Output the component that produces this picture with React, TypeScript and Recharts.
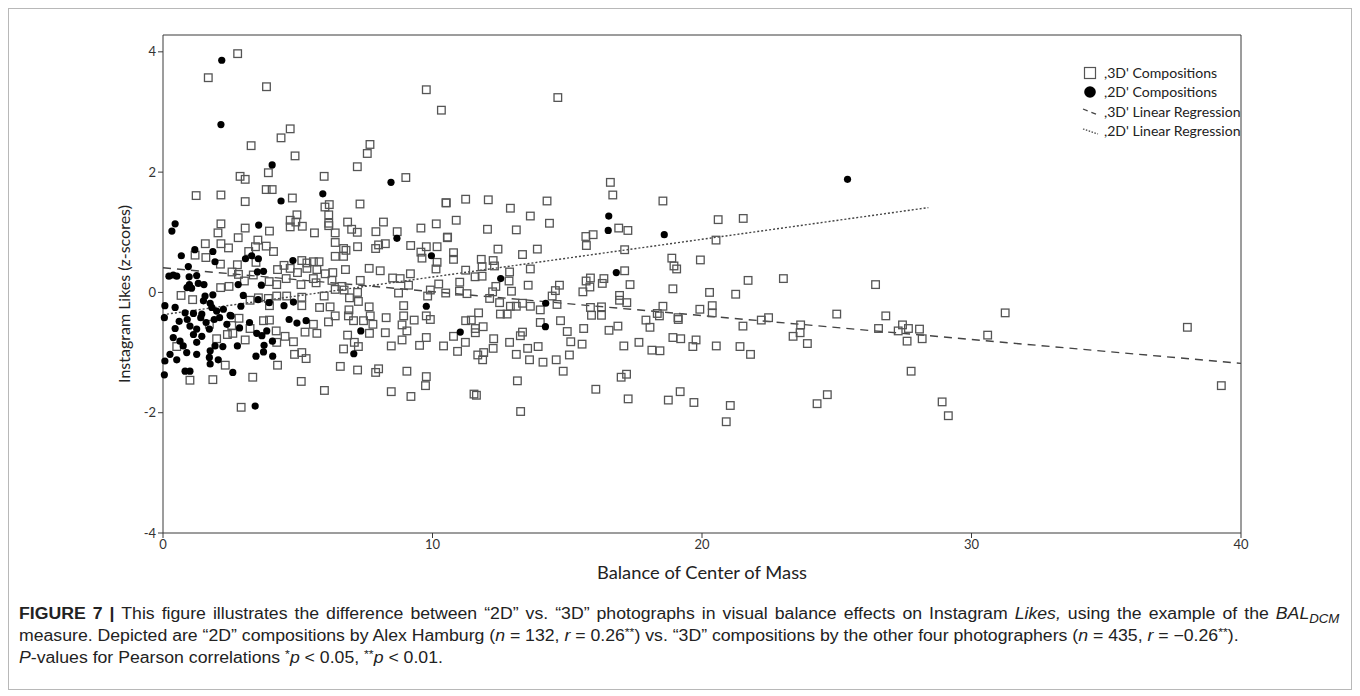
import { ScatterChart, Scatter, XAxis, YAxis, ReferenceLine, Label } from "recharts";

// "3D" compositions (x = BAL_DCM, y = likes z-score)
const squares3D: [number, number][] = [
  [1.68, 3.57], [2.77, 3.97], [3.84, 3.42], [3.27, 2.44], [4.38, 2.57], [4.72, 2.72], [4.9, 2.27],
  [3.91, 1.99], [2.86, 1.93], [3.05, 1.88], [5.98, 1.93], [7.21, 2.09], [7.58, 2.31], [7.68, 2.46],
  [9.77, 3.37], [10.33, 3.03], [9.01, 1.91], [14.65, 3.24], [16.6, 1.83], [16.69, 1.62],
  [1.23, 1.61], [2.15, 1.62], [3.05, 1.51], [3.83, 1.71], [4.05, 1.71], [4.8, 1.57], [6.17, 1.46],
  [6.01, 1.42], [6.15, 1.29], [6.15, 1.15], [6.15, 1.11], [7.31, 1.47], [10.5, 1.49], [2.15, 1.14],
  [2.04, 0.99], [3.05, 1.07], [3.95, 1.02], [4.72, 1.2], [4.72, 1.09], [4.97, 1.29], [4.93, 1.17],
  [5.17, 1.1], [5.62, 0.99], [6.39, 0.99], [6.85, 1.17], [7.0, 1.05], [7.21, 1.0], [8.18, 1.17],
  [7.9, 1.01], [8.69, 1.01], [9.57, 1.07], [10.14, 1.14], [10.55, 0.91], [2.79, 0.91], [1.57, 0.81],
  [2.15, 0.81], [2.43, 0.74], [1.19, 0.62], [1.59, 0.58], [2.13, 0.47], [3.18, 0.68], [3.43, 0.76],
  [3.52, 0.87], [3.83, 0.77], [4.1, 0.68], [3.45, 0.5], [2.76, 0.46], [2.56, 0.34], [2.8, 0.3],
  [3.35, 0.29], [0.67, -0.05], [1.1, -0.12], [2.14, 0.08], [2.45, 0.1], [3.02, 0.19], [3.23, -0.13],
  [3.94, 0.18], [4.22, 0.13], [3.54, -0.09], [3.91, -0.1], [3.95, -0.22], [4.25, 0.38], [4.49, 0.45],
  [4.72, 0.4], [4.99, 0.33], [5.15, 0.53], [5.34, 0.49], [5.58, 0.51], [5.79, 0.51], [5.34, 0.4],
  [5.71, 0.38], [6.02, 0.31], [6.3, 0.33], [6.77, 0.38], [6.27, 0.2], [5.58, 0.23], [5.68, 0.16],
  [5.12, 0.13], [4.57, 0.23], [4.22, -0.06], [4.59, -0.06], [5.15, -0.08], [5.15, -0.22], [5.81, -0.25],
  [5.98, -0.06], [6.2, -0.24], [6.39, 0.05], [6.64, 0.1], [6.72, 0.04], [6.92, -0.09], [7.25, -0.15],
  [7.22, 0.0], [7.32, 0.2], [6.9, -0.29], [7.65, 0.4], [8.06, 0.36], [7.65, -0.24], [8.52, 0.24],
  [8.8, 0.23], [9.18, 0.31], [9.11, 0.12], [8.74, -0.01], [8.93, -0.22], [9.57, 0.67], [9.77, 0.76],
  [10.17, 0.76], [9.61, 0.57], [10.17, 0.5], [10.13, 0.39], [10.23, 0.14], [9.92, 0.04], [9.82, -0.06],
  [10.49, -0.01], [8.25, 0.81], [8.0, 0.79], [7.89, 0.73], [9.19, 0.78], [7.22, 0.76], [6.7, 0.73],
  [6.79, 0.7], [6.39, 0.83], [6.39, 0.6], [6.7, 0.6],
  [1.0, -1.46], [1.85, -1.45], [3.33, -1.41], [2.9, -1.91], [5.13, -1.48], [5.99, -1.63], [6.58, -1.23],
  [7.22, -1.29], [7.89, -1.33], [8.0, -1.27], [8.47, -1.65], [9.05, -1.31], [9.2, -1.73], [9.77, -1.4],
  [9.74, -1.55], [10.41, -0.89], [9.52, -0.88], [9.77, -0.75], [8.87, -0.79], [8.47, -0.89], [8.25, -0.67],
  [9.05, -0.64], [8.87, -0.54], [9.32, -0.46], [9.92, -0.45], [9.77, -0.39], [8.93, -0.39], [8.28, -0.42],
  [7.79, -0.53], [7.69, -0.39], [7.44, -0.47], [7.07, -0.47], [6.88, -0.39], [6.39, -0.39], [6.14, -0.49],
  [6.85, -0.71], [7.1, -0.83], [7.25, -0.9], [6.7, -0.94], [7.66, -0.68], [5.71, -0.68], [5.27, -0.66],
  [5.58, -0.53], [4.84, -0.82], [4.53, -0.73], [4.22, -0.83], [4.2, -0.64], [5.15, -1.0], [5.31, -1.1],
  [4.88, -1.03], [4.25, -1.21], [3.05, -0.79], [2.31, -1.21], [1.99, -0.77], [2.39, -0.7], [2.59, -0.68],
  [2.55, -0.55], [3.73, -0.47], [3.95, -0.46], [3.23, -0.6], [2.82, -0.43], [0.51, -0.9], [1.72, -0.53],
  [15.69, 0.93], [15.96, 0.96], [15.71, 0.78], [16.91, 1.07], [17.25, 1.03], [18.55, 1.52], [20.6, 1.21],
  [21.53, 1.23], [20.52, 0.87], [17.13, 0.71], [18.88, 0.57], [19.94, 0.54], [18.96, 0.44], [19.06, 0.39],
  [17.13, 0.36], [17.33, 0.13], [18.92, 0.06], [20.28, 0.0], [21.25, -0.03], [21.71, 0.2], [15.7, 0.19],
  [15.86, 0.24], [15.84, 0.09], [15.58, 0.01], [16.3, 0.15], [16.36, 0.23], [16.94, -0.05], [16.94, -0.13],
  [17.21, -0.17], [15.86, -0.25], [16.27, -0.24], [15.9, -0.38], [16.27, -0.38], [18.55, -0.23],
  [18.34, -0.35], [18.42, -0.39], [19.92, -0.28], [20.38, -0.22], [20.38, -0.34], [19.11, -0.42],
  [10.51, 1.49], [11.23, 1.55], [12.07, 1.54], [12.89, 1.4], [14.25, 1.52], [13.63, 1.27], [14.34, 1.15],
  [10.88, 1.2], [12.04, 1.05], [13.11, 1.04], [10.56, 0.92], [12.43, 0.72], [10.78, 0.66], [10.78, 0.55],
  [11.81, 0.55], [12.25, 0.53], [11.84, 0.43], [12.3, 0.44], [13.34, 0.63], [13.89, 0.72], [13.63, 0.39],
  [12.86, 0.34], [11.23, 0.37], [11.58, 0.26], [11.84, 0.27], [12.84, 0.19], [11.01, 0.17], [13.55, 0.12],
  [14.71, 0.12], [12.93, 0.02], [12.35, 0.1], [12.23, 0.01], [11.0, 0.02], [11.28, -0.02], [12.12, -0.1],
  [12.49, -0.17], [12.89, -0.23], [13.11, -0.23], [13.34, -0.18], [13.63, -0.23], [14.0, -0.29],
  [14.44, -0.06], [14.56, 0.03], [14.62, -0.2], [11.71, -0.34], [12.52, -0.36], [12.77, -0.36],
  [11.23, -0.47], [11.44, -0.46], [10.78, -0.73], [10.93, -0.98], [11.22, -0.83], [11.59, -0.6],
  [11.59, -0.67], [11.88, -0.57], [11.68, -1.04], [11.9, -1.0], [11.86, -1.12], [12.27, -0.77],
  [12.25, -0.93], [12.86, -0.83], [13.26, -0.72], [13.34, -0.66], [13.11, -1.03], [13.53, -0.93],
  [13.6, -1.12], [13.92, -0.9], [14.1, -1.16], [14.0, -0.5], [14.75, -0.47], [15.0, -0.65], [15.13, -0.82],
  [15.08, -1.04], [14.59, -1.12], [14.85, -1.31], [15.55, -0.86], [15.61, -0.6], [16.55, -0.63],
  [16.88, -0.56], [17.1, -0.89], [17.66, -0.83], [17.92, -0.46], [18.07, -0.58], [18.14, -0.96],
  [18.44, -0.97], [18.92, -0.75], [19.21, -0.77], [19.12, -0.45], [19.78, -0.79], [19.66, -0.9],
  [20.53, -0.89], [21.41, -0.9], [21.52, -0.56], [13.15, -1.47], [11.54, -1.69], [11.63, -1.71],
  [13.27, -1.98], [16.06, -1.61], [17.0, -1.41], [17.2, -1.36], [17.26, -1.77], [18.75, -1.79],
  [19.19, -1.65], [19.7, -1.83], [21.05, -1.88], [20.9, -2.15], [21.8, -1.03],
  [23.02, 0.23], [26.44, 0.13], [25.0, -0.36], [26.82, -0.39], [31.25, -0.34], [38.01, -0.58],
  [22.2, -0.46], [22.47, -0.42], [23.66, -0.54], [23.64, -0.67], [23.38, -0.73], [23.91, -0.85],
  [26.55, -0.6], [27.44, -0.54], [27.28, -0.64], [27.66, -0.6], [28.07, -0.61], [27.61, -0.81],
  [28.17, -0.77], [30.6, -0.71], [27.76, -1.31], [24.27, -1.85], [24.65, -1.7], [28.91, -1.82],
  [29.14, -2.05], [39.27, -1.55],
];

// "2D" compositions (Alex Hamburg)
const dots2D: [number, number][] = [
  [2.18, 3.86], [2.15, 2.79], [4.05, 2.12], [8.46, 1.83], [4.38, 1.52], [5.93, 1.64], [0.45, 1.14],
  [0.33, 1.02], [3.55, 1.12], [8.68, 0.9], [1.18, 0.71], [1.85, 0.68], [0.68, 0.61], [1.93, 0.51],
  [3.06, 0.56], [3.29, 0.61], [3.54, 0.56], [3.5, 0.34], [3.73, 0.35], [0.94, 0.43], [0.38, 0.29],
  [0.22, 0.27], [0.51, 0.27], [0.97, 0.26], [1.25, 0.28], [0.98, 0.13], [1.31, 0.15], [1.52, 0.13],
  [0.89, 0.08], [1.06, 0.07], [1.56, -0.06], [1.85, -0.04], [1.5, -0.14], [1.75, -0.18], [1.81, -0.25],
  [0.07, -0.22], [0.45, -0.25], [0.82, -0.34], [1.13, -0.35], [1.44, -0.36], [1.99, -0.31], [2.24, -0.28],
  [2.49, -0.38], [2.79, 0.13], [2.98, -0.05], [2.89, -0.23], [3.65, 0.12], [3.94, -0.17], [4.82, 0.53],
  [4.49, -0.22], [4.84, -0.16], [9.96, 0.61], [9.77, -0.23],
  [0.45, -0.6], [0.38, -0.75], [0.63, -0.81], [0.75, -0.89], [0.26, -1.03], [0.07, -1.14], [0.51, -1.12],
  [0.88, -1.0], [0.82, -1.31], [1.0, -1.31], [0.05, -1.37], [1.25, -1.03], [1.13, -0.7], [1.0, -0.56],
  [1.25, -0.61], [1.44, -0.73], [1.25, -0.83], [1.72, -0.61], [1.75, -0.97], [1.72, -1.08], [1.75, -1.19],
  [2.05, -1.12], [1.93, -0.89], [2.22, -0.9], [2.37, -0.53], [2.53, -0.39], [2.59, -1.33], [2.76, -0.89],
  [2.84, -0.59], [3.21, -0.5], [3.48, -0.68], [3.67, -0.72], [3.85, -0.64], [3.75, -0.88], [3.73, -0.99],
  [3.45, -1.06], [4.07, -1.06], [4.06, -0.81], [3.42, -1.89], [4.68, -0.45], [4.97, -0.51], [5.31, -0.47],
  [7.34, -0.64], [7.08, -1.02], [0.05, -0.42], [0.6, -0.48], [0.9, -0.45], [1.4, -0.42], [1.6, -0.5],
  [1.9, -0.45], [2.1, -0.42], [3.53, -0.12],
  [16.54, 1.27], [16.52, 1.03], [18.6, 0.96], [16.82, 0.33], [12.53, 0.23], [14.2, -0.18], [11.03, -0.66],
  [14.19, -0.57], [25.4, 1.88],
];

const xTicks = [0, 10, 20, 30, 40];
const yTicks = [-4, -2, 0, 2, 4];
// regression line end points [x, y]
const reg3D: [number, number][] = [[0, 0.41], [40, -1.18]];
const reg2D: [number, number][] = [[0, -0.37], [28.4, 1.41]];
const legendLabels = [",3D' Compositions", ",2D' Compositions", ",3D' Linear Regression", ",2D' Linear Regression"];

const squareData = squares3D.map(([x, y]) => ({ x, y }));
const dotData = dots2D.map(([x, y]) => ({ x, y }));

const chartFont = "Lato, 'Open Sans', sans-serif";
const ink = "#3a3a3a";

const SquareShape = (p: any) => (
  <rect x={p.cx - 3.8} y={p.cy - 3.8} width={7.6} height={7.6} fill="none" stroke="#555" strokeWidth={1.3} />
);
const DotShape = (p: any) => <circle cx={p.cx} cy={p.cy} r={3.6} fill="#000" />;

// axis titles, placed from the viewBox the axis hands over
const XTitle = ({ viewBox }: any) => (
  <text
    x={viewBox.x + viewBox.width / 2}
    y={viewBox.y + viewBox.height - 4}
    textAnchor="middle"
    fontSize={16.5}
    fontFamily={chartFont}
    fill="#222"
    textLength={210}
    lengthAdjust="spacingAndGlyphs"
  >
    Balance of Center of Mass
  </text>
);

const YTitle = ({ viewBox }: any) => {
  const x = viewBox.x + 27;
  const y = viewBox.y + viewBox.height / 2 + 10;
  return (
    <text x={x} y={y} transform={`rotate(-90, ${x}, ${y})`} textAnchor="middle" fontSize={16} fontFamily={chartFont} fill="#222">
      Instagram Likes (z-scores)
    </text>
  );
};

function ChartLegend() {
  return (
    <svg width={180} height={84} style={{ position: "absolute", left: 1073, top: 55 }}>
      <rect x={2.5} y={3.5} width={11} height={11} fill="none" stroke="#555" strokeWidth={1.2} />
      <circle cx={8} cy={28} r={5.8} fill="#000" />
      <line x1={1} y1={45} x2={16} y2={51} stroke="#444" strokeWidth={1.3} strokeDasharray="5 4" />
      <line x1={1} y1={65} x2={16} y2={70} stroke="#444" strokeWidth={1.3} strokeDasharray="1.5 1.5" />
      {legendLabels.map((t, i) => (
        <text
          key={t}
          transform={`translate(22, ${14 + i * 19.3}) scale(1.1, 1)`}
          fontSize={12.8}
          fontFamily={chartFont}
          fill="#222"
        >
          {t}
        </text>
      ))}
    </svg>
  );
}

const supStyle = { fontSize: "0.7em", verticalAlign: "baseline", position: "relative" as const, top: "-0.45em" };
const subStyle = { fontSize: "0.75em", verticalAlign: "baseline", position: "relative" as const, top: "0.3em" };
const lineStyle = { height: 22, lineHeight: "22px" };

export default function App() {
  return (
    <div
      style={{
        position: "relative",
        width: 1342,
        height: 680,
        border: "1px solid #b8b8b8",
        fontFamily: "'Liberation Sans', Arial, sans-serif",
      }}
    >
      <ScatterChart width={1300} height={590} margin={{ top: 26, right: 68, bottom: 16, left: 94 }}>
        <XAxis
          type="number"
          dataKey="x"
          domain={[0, 40]}
          ticks={xTicks}
          height={50}
          tickSize={5}
          stroke={ink}
          tick={{ fontSize: 13, fontFamily: chartFont, fill: "#333" }}
        >
          <Label content={XTitle} />
        </XAxis>
        <YAxis
          type="number"
          dataKey="y"
          domain={[-4, 4.28]}
          ticks={yTicks}
          allowDataOverflow
          width={60}
          tickSize={5}
          stroke={ink}
          tick={{ fontSize: 13, fontFamily: chartFont, fill: "#333" }}
        >
          <Label content={YTitle} />
        </YAxis>
        <ReferenceLine x={40} stroke={ink} />
        <ReferenceLine y={4.28} stroke={ink} />
        <ReferenceLine
          segment={reg3D.map(([x, y]) => ({ x, y }))}
          stroke="#444"
          strokeWidth={1.4}
          strokeDasharray="8 6"
        />
        <ReferenceLine
          segment={reg2D.map(([x, y]) => ({ x, y }))}
          stroke="#444"
          strokeWidth={1.4}
          strokeDasharray="2 2"
        />
        <Scatter data={squareData} shape={SquareShape} isAnimationActive={false} />
        <Scatter data={dotData} shape={DotShape} isAnimationActive={false} />
      </ScatterChart>
      <ChartLegend />
      <div
        style={{
          position: "absolute",
          left: 10,
          top: 594,
          fontSize: 16,
          color: "#222",
          whiteSpace: "nowrap",
          transform: "scaleX(1.104)",
          transformOrigin: "0 0",
        }}
      >
        <div style={{ ...lineStyle, width: 1196, textAlign: "justify", textAlignLast: "justify" }}>
          <b>FIGURE 7 |</b> This figure illustrates the difference between “2D” vs. “3D” photographs in visual
          balance effects on Instagram <i>Likes,</i> using the example of the <i>BAL<span style={subStyle}>DCM</span></i>
        </div>
        <div style={lineStyle}>
          measure. Depicted are “2D” compositions by Alex Hamburg (<i>n</i> = 132, <i>r</i> = 0.26
          <span style={supStyle}>**</span>) vs. “3D” compositions by the other four photographers (<i>n</i> = 435,{" "}
          <i>r</i> = −0.26<span style={supStyle}>**</span>).
        </div>
        <div style={lineStyle}>
          <i>P</i>-values for Pearson correlations <span style={supStyle}>*</span>
          <i>p</i> &lt; 0.05, <span style={supStyle}>**</span>
          <i>p</i> &lt; 0.01.
        </div>
      </div>
    </div>
  );
}
